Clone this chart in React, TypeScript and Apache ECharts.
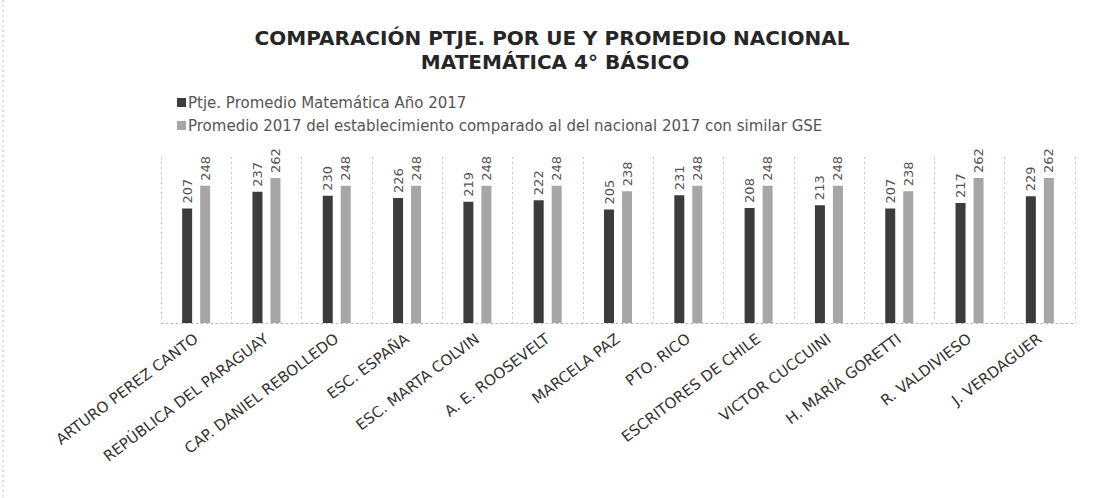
import React, { useEffect, useRef } from "react";
import * as echarts from "echarts";

const categories = [
  "ARTURO PEREZ CANTO",
  "REPÚBLICA DEL PARAGUAY",
  "CAP. DANIEL REBOLLEDO",
  "ESC. ESPAÑA",
  "ESC. MARTA COLVIN",
  "A. E. ROOSEVELT",
  "MARCELA PAZ",
  "PTO. RICO",
  "ESCRITORES DE CHILE",
  "VICTOR CUCCUINI",
  "H. MARÍA GORETTI",
  "R. VALDIVIESO",
  "J. VERDAGUER",
];
const ptjeEstablecimiento = [207, 237, 230, 226, 219, 222, 205, 231, 208, 213, 207, 217, 229];
const promedioNacional = [248, 262, 248, 248, 248, 248, 238, 248, 248, 248, 238, 262, 262];
const seriesNames = [
  "Ptje. Promedio Matemática Año 2017",
  "Promedio 2017 del establecimiento comparado al del nacional 2017 con similar GSE",
];
const titleLines = ["COMPARACIÓN PTJE. POR UE Y PROMEDIO NACIONAL", "MATEMÁTICA 4° BÁSICO"];

export default function App() {
  const ref = useRef<HTMLDivElement>(null);
  useEffect(() => {
    document.body.style.margin = "0";
    const chart = echarts.init(ref.current!, null, { renderer: "svg" });
    const labelStyle = {
      show: true,
      position: "top" as const,
      rotate: 90,
      align: "left" as const,
      verticalAlign: "middle" as const,
      distance: 5,
      fontSize: 13,
      fontFamily: "DejaVu Sans",
      color: "#555",
    };
    chart.setOption({
      animation: false,
      backgroundColor: "#fff",
      graphic: [
        {
          type: "text",
          x: 552,
          y: 38,
          style: {
            text: titleLines[0],
            fontSize: 20,
            fontWeight: "bold",
            fontFamily: "DejaVu Sans",
            fill: "#262626",
            textAlign: "center",
            textVerticalAlign: "middle",
          },
        },
        {
          type: "text",
          x: 555,
          y: 62,
          style: {
            text: titleLines[1],
            fontSize: 20,
            fontWeight: "bold",
            fontFamily: "DejaVu Sans",
            fill: "#262626",
            textAlign: "center",
            textVerticalAlign: "middle",
          },
        },
        {
          type: "line",
          shape: { x1: 3, y1: 0, x2: 3, y2: 498 },
          style: { stroke: "#bbb", lineWidth: 1, lineDash: [2, 3] },
        },
      ],
      legend: {
        orient: "vertical",
        left: 172,
        top: 90,
        itemWidth: 9,
        itemHeight: 9,
        itemGap: 8,
        icon: "rect",
        textStyle: { fontSize: 15, fontFamily: "DejaVu Sans", color: "#555", padding: [0, 0, 0, -3] },
        data: seriesNames,
      },
      grid: { left: 161, right: 21, top: 157, bottom: 175 },
      xAxis: {
        type: "category",
        data: categories,
        axisTick: { show: false },
        axisLine: { show: true, lineStyle: { color: "#bbb", type: [2, 3] } },
        splitLine: { show: true, lineStyle: { color: "#c8c8c8", type: [2, 3] } },
        axisLabel: {
          interval: 0,
          rotate: 37,
          margin: 14,
          fontSize: 15,
          fontFamily: "DejaVu Sans",
          color: "#333",
        },
      },
      yAxis: {
        type: "value",
        min: 0,
        max: 300,
        show: false,
        splitLine: { show: false },
      },
      series: [
        {
          name: seriesNames[0],
          type: "bar",
          data: ptjeEstablecimiento,
          barWidth: 10,
          barGap: "80%",
          itemStyle: { color: "#3c3c3c" },
          label: labelStyle,
        },
        {
          name: seriesNames[1],
          type: "bar",
          data: promedioNacional,
          barWidth: 10,
          barGap: "80%",
          itemStyle: { color: "#a6a6a6" },
          label: labelStyle,
        },
      ],
    });
    return () => chart.dispose();
  }, []);
  return <div ref={ref} style={{ width: 1096, height: 498 }} />;
}
